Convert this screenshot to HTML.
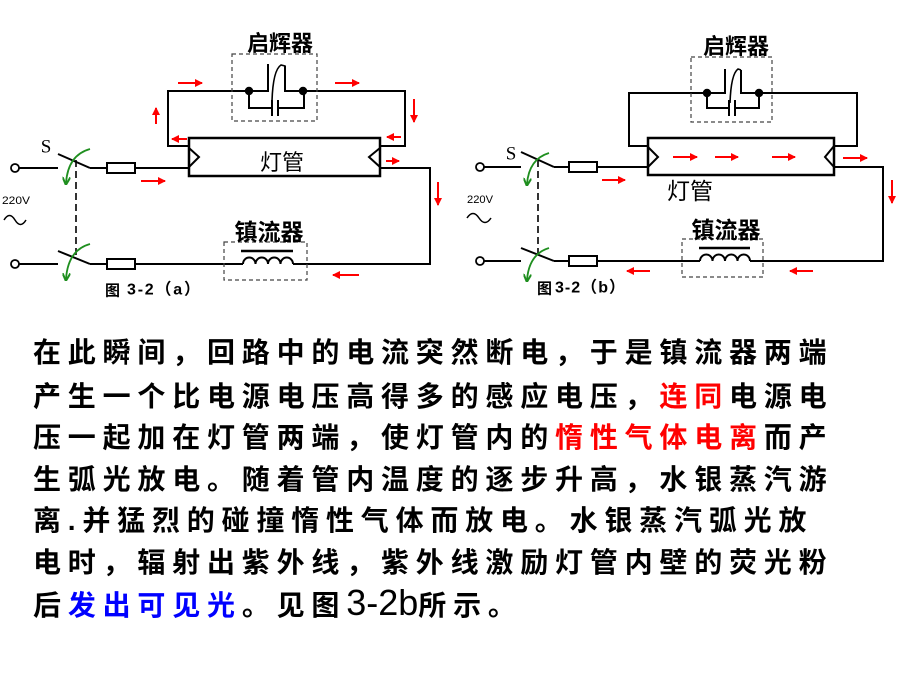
<!DOCTYPE html>
<html><head><meta charset="utf-8">
<style>
html,body{margin:0;padding:0;background:#fff;}
#c{position:relative;width:900px;height:675px;overflow:hidden;background:#fff;}
svg{position:absolute;left:0;top:0;}
.l{position:absolute;left:33px;white-space:nowrap;font-family:"Liberation Sans","Noto Sans CJK SC",sans-serif;font-size:28px;font-weight:bold;letter-spacing:6.8px;line-height:42px;color:#000;}
.r{color:#ff0000;}
.b{color:#0000ff;}
.d{font-size:36px;font-weight:normal;letter-spacing:0;}
</style></head>
<body><div id="c">
<svg width="900" height="675" viewBox="0 0 900 675">
<defs>
<marker id="ra" markerUnits="userSpaceOnUse" markerWidth="8" markerHeight="8" viewBox="0 0 8 8" refX="7" refY="4" orient="auto"><path d="M0,0 L8,4 L0,8 z" fill="#ff0000"/></marker>
<marker id="ga" markerUnits="userSpaceOnUse" markerWidth="8" markerHeight="8" viewBox="0 0 8 8" refX="6" refY="4" orient="auto"><path d="M0,0 L8,4 L0,8" fill="none" stroke="#1f8f1f" stroke-width="2"/></marker>
</defs>

<!-- ============ LEFT DIAGRAM ============ -->
<g fill="none" stroke="#000" stroke-width="2">
  <!-- top loop -->
  <polyline points="189,146 168,146 168,91 249,91 268,91 268,64"/>
  <path d="M272,101 Q273,70 281,65 L285,66 L285,91 L405,91 L405,146 L380,146" stroke-width="1.6"/>
  <path d="M285,66 L285,91 L405,91 L405,146 L380,146"/>
  <!-- capacitor -->
  <polyline points="249,91 249,108 272,108"/>
  <line x1="272" y1="100" x2="272" y2="116"/>
  <line x1="278" y1="100" x2="278" y2="116"/>
  <polyline points="278,108 304,108 304,91"/>
  <!-- tube -->
  <rect x="189" y="138" width="191" height="38" stroke-width="2.5"/>
  <polyline points="189,148 199,157 189,167"/>
  <polyline points="380,148 369,157 380,167"/>
  <!-- upper line -->
  <line x1="19" y1="168" x2="58" y2="168"/>
  <line x1="58" y1="154" x2="90" y2="168"/>
  <line x1="90" y1="168" x2="107" y2="168"/>
  <rect x="107" y="163" width="28" height="10"/>
  <line x1="135" y1="168" x2="189" y2="168"/>
  <polyline points="380,168 430,168 430,264 293,264"/>
  <!-- lower line -->
  <line x1="19" y1="264" x2="58" y2="264"/>
  <line x1="58" y1="251" x2="90" y2="264"/>
  <line x1="90" y1="264" x2="107" y2="264"/>
  <rect x="107" y="259" width="28" height="10"/>
  <line x1="135" y1="264" x2="243" y2="264"/>
  <!-- coil -->
  <path d="M243,264 a6.25,6.5 0 0 1 12.5,0 a6.25,6.5 0 0 1 12.5,0 a6.25,6.5 0 0 1 12.5,0 a6.25,6.5 0 0 1 12.5,0"/>
  <line x1="241" y1="251" x2="293" y2="251" stroke-width="2.5"/>
</g>
<circle cx="249" cy="91" r="4.2" fill="#000"/>
<circle cx="303" cy="91" r="4.2" fill="#000"/>
<circle cx="15" cy="168" r="4" fill="#fff" stroke="#000" stroke-width="1.8"/>
<circle cx="15" cy="264" r="4" fill="#fff" stroke="#000" stroke-width="1.8"/>
<!-- dashed boxes -->
<rect x="232" y="54" width="85" height="67" fill="none" stroke="#444" stroke-width="1.2" stroke-dasharray="4 3"/>
<rect x="224" y="242" width="83" height="38" fill="none" stroke="#444" stroke-width="1.2" stroke-dasharray="4 3"/>
<line x1="76" y1="160" x2="76" y2="255" stroke="#000" stroke-width="1.6" stroke-dasharray="7 4"/>
<!-- green arrows -->
<path d="M90,149 Q68,155 66,183" fill="none" stroke="#1f8f1f" stroke-width="1.8" marker-end="url(#ga)"/>
<path d="M90,244 Q68,250 66,279" fill="none" stroke="#1f8f1f" stroke-width="1.8" marker-end="url(#ga)"/>
<!-- sine -->
<path d="M4,220 q5.5,-9 11,0 t11,0" fill="none" stroke="#000" stroke-width="1.5"/>
<!-- red arrows -->
<g stroke="#ff0000" stroke-width="2" marker-end="url(#ra)">
  <line x1="178" y1="83" x2="202" y2="83"/>
  <line x1="335" y1="83" x2="359" y2="83"/>
  <line x1="156" y1="124" x2="156" y2="108"/>
  <line x1="414" y1="99" x2="414" y2="122"/>
  <line x1="187" y1="139" x2="172" y2="139"/>
  <line x1="401" y1="137" x2="387" y2="137"/>
  <line x1="386" y1="161" x2="399" y2="161"/>
  <line x1="141" y1="181" x2="165" y2="181"/>
  <line x1="438" y1="182" x2="438" y2="205"/>
  <line x1="359" y1="275" x2="333" y2="275"/>
</g>
<!-- labels -->
<g font-family="'Noto Sans CJK SC','WenQuanYi Zen Hei',sans-serif" fill="#000" dominant-baseline="central" text-anchor="middle">
  <text x="280" y="42" font-size="22" font-weight="bold">启辉器</text>
  <text x="282" y="161" font-size="22">灯管</text>
  <text x="269" y="230" font-size="23" font-weight="bold">镇流器</text>
</g>
<text x="46" y="147" font-family="'Liberation Serif',serif" font-size="19" dominant-baseline="central" text-anchor="middle">S</text>
<text x="2" y="201" font-family="'Liberation Sans',sans-serif" font-size="11" dominant-baseline="central" textLength="28" lengthAdjust="spacingAndGlyphs">220V</text>
<text x="105" y="290" font-family="'Noto Sans CJK SC',sans-serif" font-size="15" font-weight="bold" dominant-baseline="central">图</text>
<text x="127" y="290" font-family="'Liberation Sans','Noto Sans CJK SC',sans-serif" font-size="16" font-weight="bold" dominant-baseline="central" textLength="73" lengthAdjust="spacing">3-2（a）</text>

<!-- ============ RIGHT DIAGRAM ============ -->
<g fill="none" stroke="#000" stroke-width="2">
  <polyline points="648,146 629,146 629,93 707,93 725,93 725,69"/>
  <path d="M730,103 Q731,74 738,69 L741,70" stroke-width="1.6"/>
  <path d="M741,70 L741,93 L857,93 L857,146 L834,146"/>
  <polyline points="707,93 707,108 729,108"/>
  <line x1="729" y1="100" x2="729" y2="116"/>
  <line x1="735" y1="100" x2="735" y2="116"/>
  <polyline points="735,108 759,108 759,93"/>
  <rect x="648" y="138" width="186" height="37" stroke-width="2.5"/>
  <polyline points="648,147 658,157 648,167"/>
  <polyline points="834,146 825,157 834,167"/>
  <line x1="484" y1="167" x2="521" y2="167"/>
  <line x1="521" y1="152" x2="554" y2="167"/>
  <line x1="554" y1="167" x2="569" y2="167"/>
  <rect x="569" y="162" width="28" height="10"/>
  <line x1="597" y1="167" x2="648" y2="167"/>
  <polyline points="834,167 883,167 883,261 750,261"/>
  <line x1="484" y1="261" x2="521" y2="261"/>
  <line x1="521" y1="248" x2="554" y2="261"/>
  <line x1="554" y1="261" x2="569" y2="261"/>
  <rect x="569" y="256" width="28" height="10"/>
  <line x1="597" y1="261" x2="700" y2="261"/>
  <path d="M700,261 a6.25,6.5 0 0 1 12.5,0 a6.25,6.5 0 0 1 12.5,0 a6.25,6.5 0 0 1 12.5,0 a6.25,6.5 0 0 1 12.5,0"/>
  <line x1="699" y1="248" x2="750" y2="248" stroke-width="2.5"/>
</g>
<circle cx="707" cy="93" r="4.2" fill="#000"/>
<circle cx="759" cy="93" r="4.2" fill="#000"/>
<circle cx="480" cy="167" r="4" fill="#fff" stroke="#000" stroke-width="1.8"/>
<circle cx="480" cy="261" r="4" fill="#fff" stroke="#000" stroke-width="1.8"/>
<rect x="691" y="57" width="81" height="65" fill="none" stroke="#444" stroke-width="1.2" stroke-dasharray="4 3"/>
<rect x="682" y="239" width="81" height="38" fill="none" stroke="#444" stroke-width="1.2" stroke-dasharray="4 3"/>
<line x1="538" y1="160" x2="538" y2="255" stroke="#000" stroke-width="1.6" stroke-dasharray="7 4"/>
<path d="M549,153 Q529,159 527,184" fill="none" stroke="#1f8f1f" stroke-width="1.8" marker-end="url(#ga)"/>
<path d="M549,248 Q529,254 527,280" fill="none" stroke="#1f8f1f" stroke-width="1.8" marker-end="url(#ga)"/>
<path d="M467,218 q6,-9 12,0 t12,0" fill="none" stroke="#000" stroke-width="1.5"/>
<g stroke="#ff0000" stroke-width="2" marker-end="url(#ra)">
  <line x1="673" y1="157" x2="697" y2="157"/>
  <line x1="715" y1="157" x2="738" y2="157"/>
  <line x1="772" y1="157" x2="795" y2="157"/>
  <line x1="843" y1="158" x2="867" y2="158"/>
  <line x1="602" y1="180" x2="625" y2="180"/>
  <line x1="892" y1="180" x2="892" y2="203"/>
  <line x1="813" y1="271" x2="790" y2="271"/>
  <line x1="650" y1="271" x2="627" y2="271"/>
</g>
<g font-family="'Noto Sans CJK SC','WenQuanYi Zen Hei',sans-serif" fill="#000" dominant-baseline="central" text-anchor="middle">
  <text x="736" y="45" font-size="22" font-weight="bold">启辉器</text>
  <text x="690" y="189" font-size="23">灯管</text>
  <text x="726" y="228" font-size="23" font-weight="bold">镇流器</text>
</g>
<text x="511" y="154" font-family="'Liberation Serif',serif" font-size="19" dominant-baseline="central" text-anchor="middle">S</text>
<text x="467" y="200" font-family="'Liberation Sans',sans-serif" font-size="11" dominant-baseline="central" textLength="26" lengthAdjust="spacingAndGlyphs">220V</text>
<text x="537" y="288" font-family="'Noto Sans CJK SC',sans-serif" font-size="15" font-weight="bold" dominant-baseline="central">图</text>
<text x="555" y="288" font-family="'Liberation Sans','Noto Sans CJK SC',sans-serif" font-size="16" font-weight="bold" dominant-baseline="central" textLength="70" lengthAdjust="spacing">3-2（b）</text>
</svg>

<div class="l" style="top:332px">在此瞬间，回路中的电流突然断电，于是镇流器两端</div>
<div class="l" style="top:376px">产生一个比电源电压高得多的感应电压，<span class="r">连同</span>电源电</div>
<div class="l" style="top:417px">压一起加在灯管两端，使灯管内的<span class="r">惰性气体电离</span>而产</div>
<div class="l" style="top:459px">生弧光放电。随着管内温度的逐步升高，水银蒸汽游</div>
<div class="l" style="top:500px">离.并猛烈的碰撞惰性气体而放电。水银蒸汽弧光放</div>
<div class="l" style="top:542px">电时，辐射出紫外线，紫外线激励灯管内壁的荧光粉</div>
<div class="l" style="top:582px">后<span class="b">发出可见光</span>。见图<span class="d">3-2b</span>所示。</div>
</div>
</body></html>
